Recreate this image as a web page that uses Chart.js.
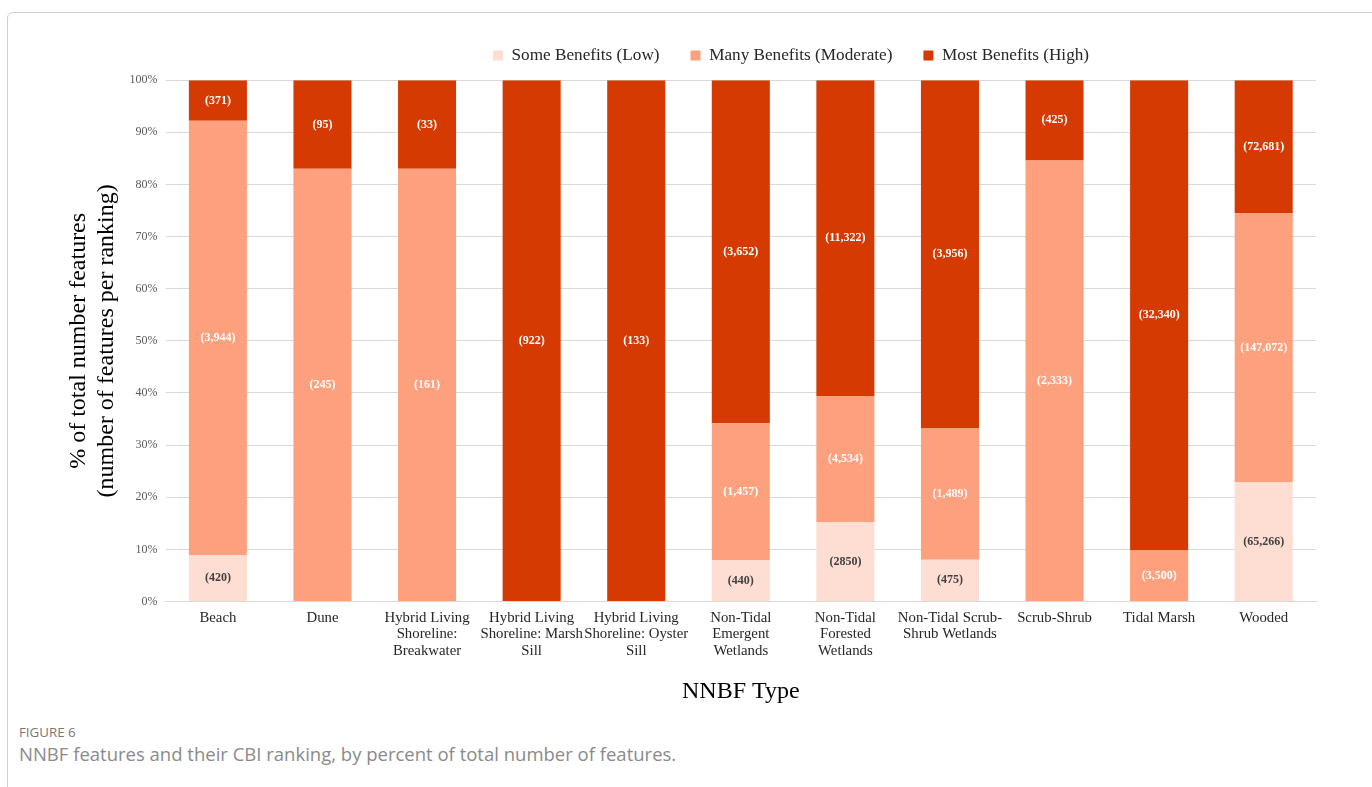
<!DOCTYPE html>
<html>
<head>
<meta charset="utf-8">
<script src="https://cdn.jsdelivr.net/npm/chart.js@4"></script>
<style>
  body { margin: 0; background: #fff; width: 1372px; height: 787px; overflow: hidden; position: relative; }
  #frame { position: absolute; left: 7px; top: 12px; width: 1380px; height: 800px; border: 1px solid #d0d0d0; border-radius: 6px; }
  #wrap { position: absolute; left: 8px; top: 2px; width: 1364px; height: 712px; }
  #figlabel { position: absolute; left: 19px; top: 723px; font-family: "Open Sans", sans-serif; font-size: 13.3px; color: #777; }
  #caption { position: absolute; left: 19px; top: 741px; font-family: "Open Sans", sans-serif; font-size: 18.5px; color: #8a8a8a; }
</style>
</head>
<body>
<div id="frame"></div>
<div id="wrap"><canvas id="myChart"></canvas></div>
<div id="figlabel">FIGURE 6</div>
<div id="caption">NNBF features and their CBI ranking, by percent of total number of features.</div>
<script>
// categories (multi-line like the original axis)
const categories = [
  ["Beach"], ["Dune"], ["Hybrid Living", "Shoreline:", "Breakwater"],
  ["Hybrid Living", "Shoreline: Marsh", "Sill"], ["Hybrid Living", "Shoreline: Oyster", "Sill"],
  ["Non-Tidal", "Emergent", "Wetlands"], ["Non-Tidal", "Forested", "Wetlands"],
  ["Non-Tidal Scrub-", "Shrub Wetlands"], ["Scrub-Shrub"], ["Tidal Marsh"], ["Wooded"]
];

// percent of total features
const lowPct = [8.9, 0, 0, 0, 0, 7.9, 15.2, 8.0, 0, 0, 22.9];
const modPct = [83.3, 83, 83, 0, 0, 26.3, 24.2, 25.2, 84.6, 9.8, 51.6];
const highPct = [7.8, 17, 17, 100, 100, 65.8, 60.6, 66.8, 15.4, 90.2, 25.5];

// feature counts shown on the bars
const lowLabels = ["(420)", "", "", "", "", "(440)", "(2850)", "(475)", "", "", "(65,266)"];
const modLabels = ["(3,944)", "(245)", "(161)", "", "", "(1,457)", "(4,534)", "(1,489)", "(2,333)", "(3,500)", "(147,072)"];
const highLabels = ["(371)", "(95)", "(33)", "(922)", "(133)", "(3,652)", "(11,322)", "(3,956)", "(425)", "(32,340)", "(72,681)"];

const serif = "'Liberation Serif', 'Times New Roman', serif";

// draws the count labels in the middle of each segment
const barLabels = {
  id: "barLabels",
  afterDatasetsDraw(chart) {
    const ctx = chart.ctx;
    const sets = [lowLabels, modLabels, highLabels];
    const colors = ["#404040", "#ffffff", "#ffffff"];
    ctx.save();
    ctx.font = "bold 12px " + serif;
    ctx.textAlign = "center";
    ctx.textBaseline = "middle";
    sets.forEach(function (labels, d) {
      const meta = chart.getDatasetMeta(d);
      meta.data.forEach(function (bar, i) {
        if (!labels[i]) return;
        const p = bar.getProps(["x", "y", "base"], true);
        ctx.fillStyle = colors[d];
        ctx.fillText(labels[i], p.x, (p.y + p.base) / 2);
      });
    });
    ctx.restore();
  }
};

// the legend in the original sits right of centre, with a bit more room under it
const legendShift = {
  id: "legendShift",
  afterInit(chart) {
    const lg = chart.legend;
    const fit = lg.fit;
    lg.fit = function () {
      fit.call(this);
      this.height += 6;
    };
  },
  afterLayout(chart) {
    chart.legend.left += 103;
    chart.legend.right += 103;
  }
};

Chart.defaults.font.family = serif;

new Chart(document.getElementById("myChart"), {
  type: "bar",
  data: {
    labels: categories,
    datasets: [
      { label: "Some Benefits (Low)", data: lowPct, backgroundColor: "#FEDDD3" },
      { label: "Many Benefits (Moderate)", data: modPct, backgroundColor: "#FDA07D" },
      { label: "Most Benefits (High)", data: highPct, backgroundColor: "#D43A02" }
    ]
  },
  options: {
    responsive: true,
    maintainAspectRatio: false,
    animation: false,
    datasets: { bar: { barPercentage: 0.555, categoryPercentage: 1 } },
    layout: { padding: { left: 52, right: 56, top: 14, bottom: 4 } },
    plugins: {
      tooltip: { enabled: false },
      legend: {
        position: "top",
        labels: { boxWidth: 10, boxHeight: 10, color: "#262626", font: { size: 17.2, family: serif }, padding: 31 }
      }
    },
    scales: {
      x: {
        stacked: true,
        grid: { display: false },
        border: { color: "#d9d9d9" },
        ticks: { color: "#262626", font: { size: 14.8, family: serif, lineHeight: 1.12 }, maxRotation: 0, autoSkip: false, padding: 0 },
        title: { display: true, text: "NNBF Type", color: "#000", font: { size: 24, family: serif }, padding: { top: 18 } }
      },
      y: {
        stacked: true,
        min: 0,
        max: 100,
        grid: { color: "#d9d9d9", drawTicks: true, tickLength: 8, tickColor: "#fff" },
        border: { display: false },
        ticks: { stepSize: 10, color: "#595959", font: { size: 12, family: serif }, padding: 0,
          callback: function (v) { return v + "%"; } },
        title: { display: true, text: ["% of total number features", "(number of features per ranking)"],
          color: "#000", font: { size: 24, family: serif, lineHeight: 1.2 }, padding: { bottom: 8 } }
      }
    }
  },
  plugins: [barLabels, legendShift]
});
</script>
</body>
</html>
